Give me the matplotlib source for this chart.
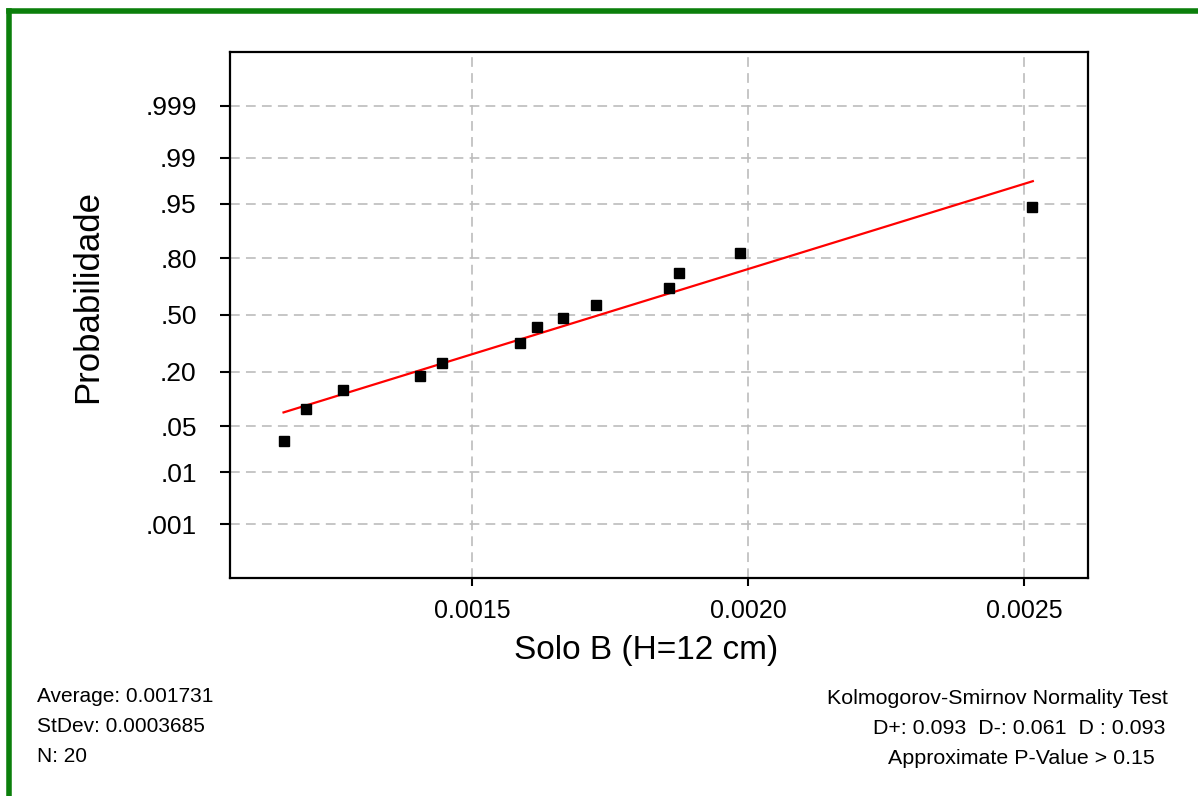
import numpy as np
import matplotlib.pyplot as plt
from matplotlib.lines import Line2D
from statistics import NormalDist

# --- data ---
solo_b = [0.001158, 0.001198, 0.001265, 0.001406, 0.001445, 0.001586, 0.001617,
          0.001665, 0.001724, 0.001857, 0.001874, 0.001986, 0.002515]
prob = [0.031, 0.083, 0.133, 0.183, 0.237, 0.338, 0.428,
        0.480, 0.559, 0.654, 0.731, 0.822, 0.945]

# fitted normal line (ends)
fit_x = [0.001158, 0.002516]
fit_p = [0.075, 0.976]

prob_ticks = [0.001, 0.01, 0.05, 0.20, 0.50, 0.80, 0.95, 0.99, 0.999]
prob_labels = ['.001', '.01', '.05', '.20', '.50', '.80', '.95', '.99', '.999']
x_ticks = [0.0015, 0.0020, 0.0025]
x_labels = ['0.0015', '0.0020', '0.0025']

stats_left = ['Average: 0.001731', 'StDev: 0.0003685', 'N: 20']
stats_right = ['Kolmogorov-Smirnov Normality Test',
               'D+: 0.093  D-: 0.061  D : 0.093',
               'Approximate P-Value > 0.15']

plt.rcParams['font.family'] = ['Liberation Sans', 'DejaVu Sans']
plt.rcParams['lines.scale_dashes'] = False

nd = NormalDist()
z = [nd.inv_cdf(p) for p in prob]
fit_z = [nd.inv_cdf(p) for p in fit_p]
tick_z = [nd.inv_cdf(p) for p in prob_ticks]

W, H = 1198, 796
fig = plt.figure(figsize=(W / 100, H / 100), dpi=100)
ax = fig.add_axes([230 / W, 1 - 578 / H, (1088 - 230) / W, (578 - 52) / H])

ax.plot(fit_x, fit_z, color='red', lw=1.6, zorder=3)
ax.plot(solo_b, z, 's', color='black', ms=7, zorder=4)

ax.set_xlim(0.001061, 0.002616)
ax.set_ylim(-3.886, 3.886)
ax.set_xticks(x_ticks)
ax.set_xticklabels(x_labels)
ax.set_yticks(tick_z)
ax.set_yticklabels(prob_labels)

ax.grid(True, color='#bcbcbc', linestyle=(0, (7, 4.5)), linewidth=1.2, zorder=0)
ax.set_axisbelow(True)
ax.tick_params(axis='y', direction='out', length=7, width=1.5, labelsize=19, pad=17)
ax.tick_params(axis='x', direction='out', length=6, width=1.5, labelsize=18, pad=9)
for s in ax.spines.values():
    s.set_linewidth(1.6)

fig.text(88 / W, 1 - 296 / H, 'Probabilidade', rotation=90, fontsize=25,
         ha='center', va='center')
fig.text(646 / W, 1 - 650 / H, 'Solo B (H=12 cm)', fontsize=24,
         ha='center', va='center')

for i, s in enumerate(stats_left):
    fig.text(37 / W, 1 - (697 + 30 * i) / H, s, fontsize=15, ha='left', va='center')
right_edges = [1168, 1165, 1155]
for i, s in enumerate(stats_right):
    fig.text(right_edges[i] / W, 1 - (698 + 30 * i) / H, s, fontsize=15.4,
             ha='right', va='center')

# green frame on top and left
fig.add_artist(Line2D([9 / W, 1], [1 - 11 / H, 1 - 11 / H], color='#0b7f0b', lw=4))
fig.add_artist(Line2D([9 / W, 9 / W], [0, 1 - 11 / H], color='#0b7f0b', lw=4))

fig.savefig('out.png', dpi=100)
